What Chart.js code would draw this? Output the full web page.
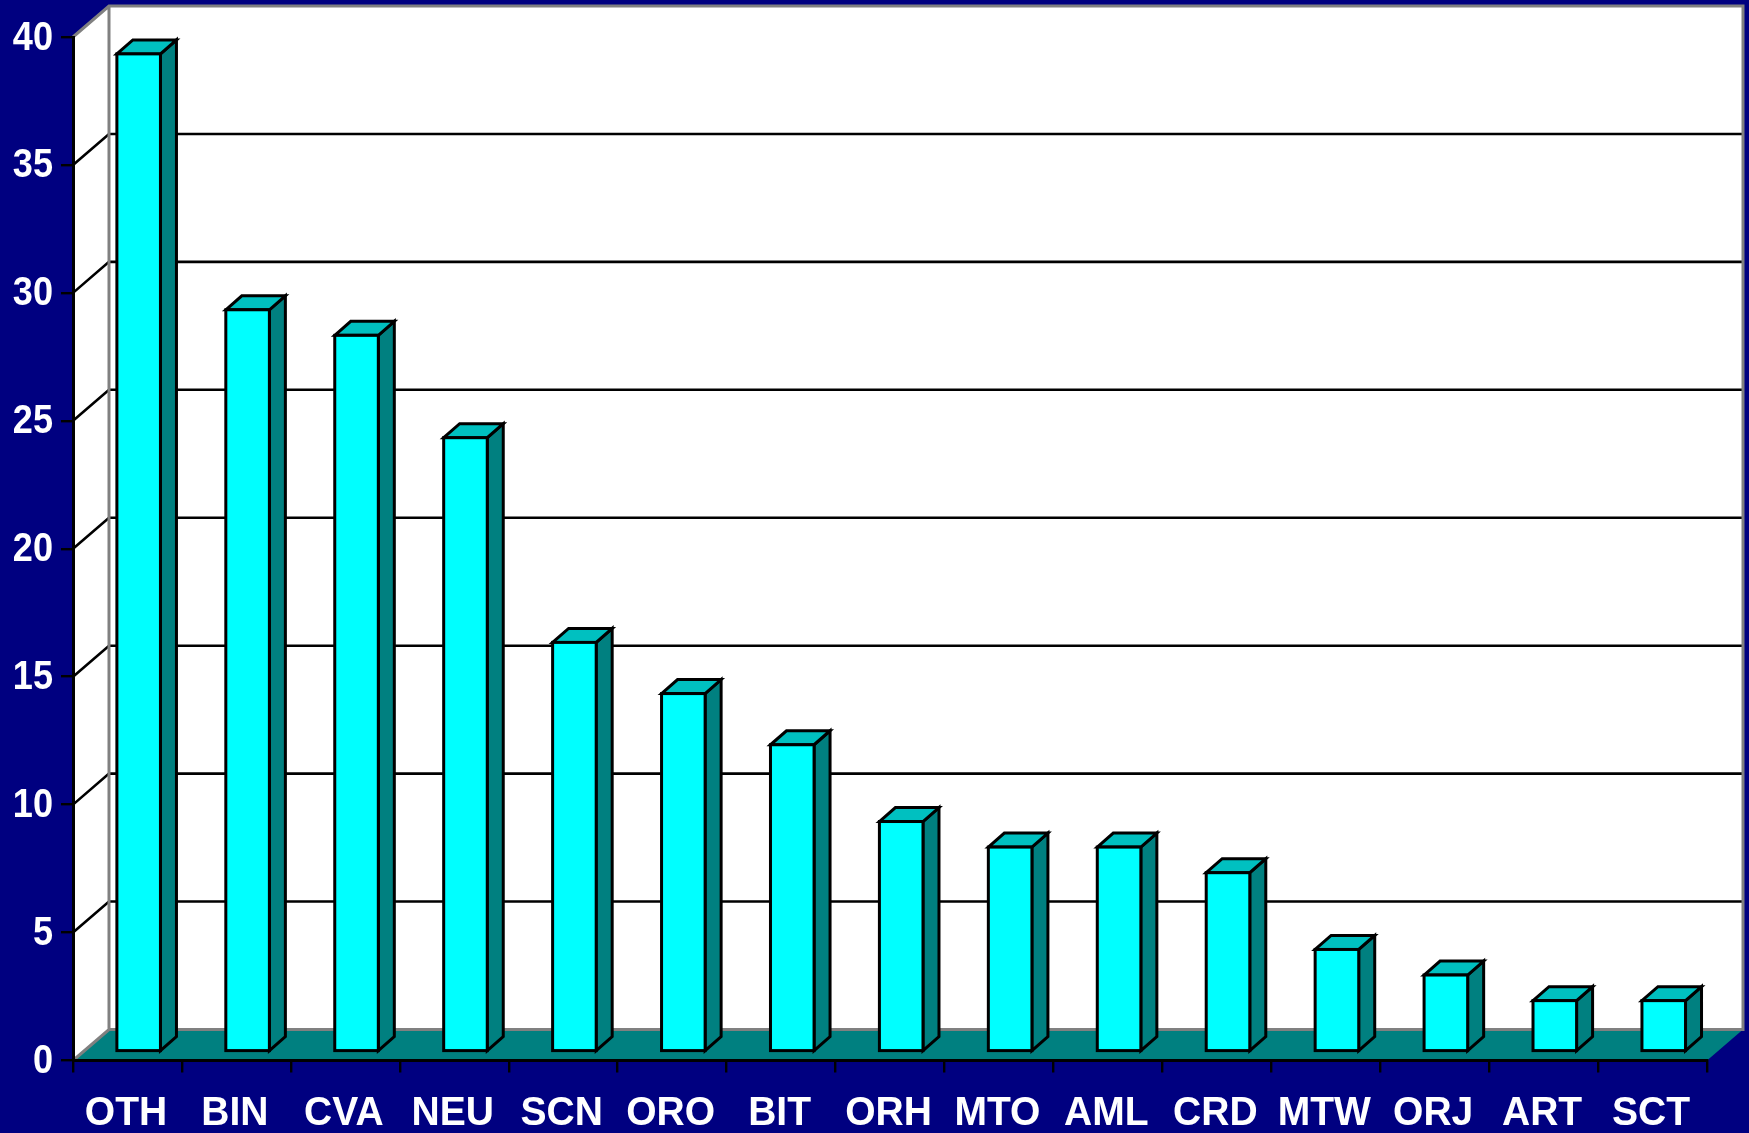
<!DOCTYPE html>
<html>
<head>
<meta charset="utf-8">
<title>Cases by category</title>
<script src="https://cdn.jsdelivr.net/npm/chart.js@4/dist/chart.umd.min.js"></script>
<style>
  html, body { margin: 0; padding: 0; background: #000080; }
  #wrap { width: 1749px; height: 1133px; }
</style>
</head>
<body>
<div id="wrap"><canvas id="barChart"></canvas></div>
<script>
const categories = ["OTH", "BIN", "CVA", "NEU", "SCN", "ORO", "BIT", "ORH", "MTO", "AML", "CRD", "MTW", "ORJ", "ART", "SCT"];
const counts = [39, 29, 28, 24, 16, 14, 12, 9, 8, 8, 7, 4, 3, 2, 2];
const yTicks = [0, 5, 10, 15, 20, 25, 30, 35, 40];

// depth of the box the bars stand in, and of each bar
const WALL_DX = 36, WALL_DY = 31;
const BAR_DX = 16, BAR_DY = 14;
const BAR_SHIFT_X = 11.2, BAR_SHIFT_Y = -8.7;
const STROKE = 3;

// back wall, side wall, floor and the gridlines that wrap around them
const box3d = {
  id: "box3d",
  beforeDraw(chart) {
    const { ctx, chartArea: a, scales } = chart;
    const backL = a.left + WALL_DX, backR = a.right + WALL_DX;
    const backT = a.top - WALL_DY, backB = a.bottom - WALL_DY;
    ctx.save();

    ctx.fillStyle = "#ffffff";
    ctx.fillRect(backL, backT, backR - backL, backB - backT);
    ctx.beginPath();
    ctx.moveTo(a.left, a.top);
    ctx.lineTo(backL, backT);
    ctx.lineTo(backL, backB);
    ctx.lineTo(a.left, a.bottom);
    ctx.closePath();
    ctx.fill();

    ctx.fillStyle = "#008080";
    ctx.beginPath();
    ctx.moveTo(a.left, a.bottom);
    ctx.lineTo(backL, backB);
    ctx.lineTo(backR, backB);
    ctx.lineTo(a.right, a.bottom);
    ctx.closePath();
    ctx.fill();

    // gridlines for the inner ticks
    ctx.strokeStyle = "#000000";
    ctx.lineWidth = 2.6;
    yTicks.slice(1, -1).forEach((v) => {
      const y = scales.y.getPixelForValue(v);
      ctx.beginPath();
      ctx.moveTo(a.left, y);
      ctx.lineTo(backL, y - WALL_DY);
      ctx.lineTo(backR, y - WALL_DY);
      ctx.stroke();
    });

    // grey edges of the walls
    ctx.strokeStyle = "#808080";
    ctx.lineWidth = 3;
    ctx.beginPath();
    ctx.moveTo(a.left, a.top);
    ctx.lineTo(backL, backT);
    ctx.lineTo(backR, backT);
    ctx.lineTo(backR, backB);
    ctx.lineTo(backL, backB);
    ctx.lineTo(a.left, a.bottom);
    ctx.moveTo(backL, backT);
    ctx.lineTo(backL, backB);
    ctx.stroke();

    ctx.restore();
  },
  // side and top faces go under the bars, the outline of the front face over them
  beforeDatasetsDraw(chart) {
    const { ctx } = chart;
    ctx.save();
    ctx.translate(BAR_SHIFT_X, BAR_SHIFT_Y);
    ctx.strokeStyle = "#000000";
    ctx.lineWidth = STROKE;
    ctx.lineJoin = "miter";
    chart.getDatasetMeta(0).data.forEach((bar) => {
      const x1 = bar.x - bar.width / 2, x2 = bar.x + bar.width / 2;

      ctx.fillStyle = "#008080";
      ctx.beginPath();
      ctx.moveTo(x2, bar.y);
      ctx.lineTo(x2 + BAR_DX, bar.y - BAR_DY);
      ctx.lineTo(x2 + BAR_DX, bar.base - BAR_DY);
      ctx.lineTo(x2, bar.base);
      ctx.closePath();
      ctx.fill();
      ctx.stroke();

      ctx.fillStyle = "#00c0c0";
      ctx.beginPath();
      ctx.moveTo(x1, bar.y);
      ctx.lineTo(x1 + BAR_DX, bar.y - BAR_DY);
      ctx.lineTo(x2 + BAR_DX, bar.y - BAR_DY);
      ctx.lineTo(x2, bar.y);
      ctx.closePath();
      ctx.fill();
      ctx.stroke();
    });
  },
  afterDatasetsDraw(chart) {
    const { ctx } = chart;
    chart.getDatasetMeta(0).data.forEach((bar) => {
      ctx.strokeRect(bar.x - bar.width / 2, bar.y, bar.width, bar.base - bar.y);
    });
    ctx.restore();
  },
};

// tick labels are set in a tall, slightly narrowed bold face
const narrowLabels = {
  id: "narrowLabels",
  afterDraw(chart) {
    const { ctx, chartArea: a, scales } = chart;
    ctx.save();
    ctx.font = "bold 41.5px 'Liberation Sans', Arial, sans-serif";
    ctx.fillStyle = "#ffffff";
    ctx.textBaseline = "alphabetic";

    ctx.textAlign = "right";
    yTicks.forEach((v) => {
      ctx.save();
      ctx.translate(53, scales.y.getPixelForValue(v) + 12.5);
      ctx.scale(0.87, 1);
      ctx.fillText(String(v), 0, 0);
      ctx.restore();
    });

    ctx.textAlign = "center";
    categories.forEach((label, i) => {
      ctx.save();
      ctx.translate(scales.x.getPixelForValue(i) - 1.5, a.bottom + 64.5);
      ctx.scale(0.94, 1);
      ctx.fillText(label, 0, 0);
      ctx.restore();
    });
    ctx.restore();
  },
};

new Chart(document.getElementById("barChart"), {
  type: "bar",
  data: {
    labels: categories,
    datasets: [
      {
        data: counts,
        backgroundColor: "#00ffff",
        borderWidth: 0,
        categoryPercentage: 0.4,
        barPercentage: 1,
        clip: false,
      },
    ],
  },
  options: {
    responsive: true,
    maintainAspectRatio: false,
    animation: false,
    layout: { padding: { top: 37, right: 42, left: 0, bottom: 0 } },
    plugins: {
      legend: { display: false },
      tooltip: { enabled: false },
    },
    scales: {
      x: {
        afterFit: (s) => { s.height = 72.5; },
        border: { color: "#000000", width: 3 },
        grid: { drawOnChartArea: false, color: "#000000", lineWidth: 2.4, tickLength: 12 },
        ticks: { display: false, autoSkip: false },
      },
      y: {
        min: 0,
        max: 40,
        afterFit: (s) => { s.width = 73; },
        afterBuildTicks: (s) => { s.ticks = yTicks.map((v) => ({ value: v })); },
        border: { color: "#000000", width: 3 },
        grid: { drawOnChartArea: false, color: "#000000", lineWidth: 2.4, tickLength: 12 },
        ticks: { display: false },
      },
    },
  },
  plugins: [box3d, narrowLabels],
});
</script>
</body>
</html>
